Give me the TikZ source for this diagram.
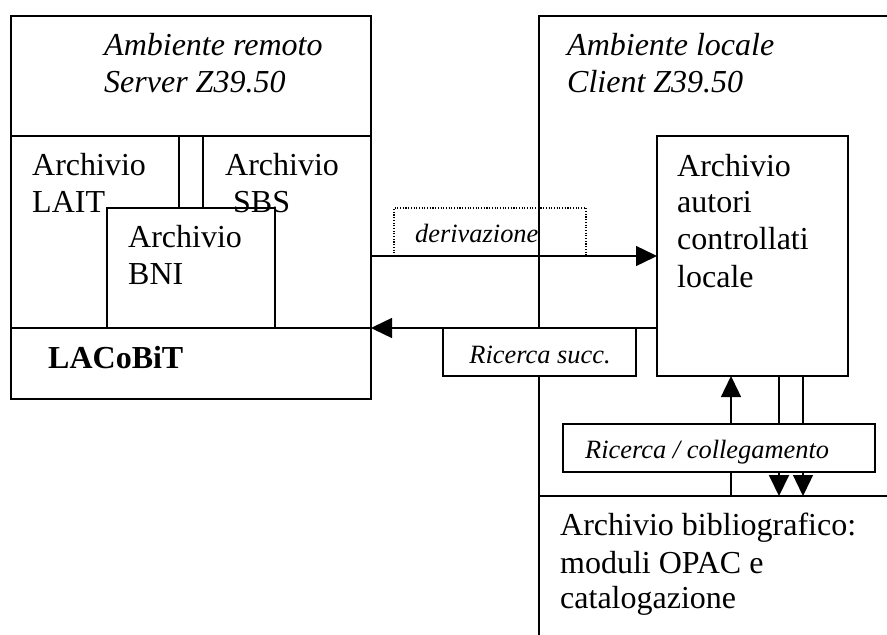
\documentclass[tikz,border=0pt]{standalone}
\usepackage{fontspec}
\setmainfont{Liberation Serif}
\usetikzlibrary{arrows.meta}
\begin{document}
\begin{tikzpicture}[x=1pt,y=-1pt,
  frame/.style={line width=1.4pt},
  box/.style={draw, line width=1.4pt, inner sep=0pt, outer sep=0pt, anchor=north west},
  wbox/.style={box, fill=white},
  big/.style={anchor=base west, inner sep=0pt, font=\fontsize{32}{37}\selectfont},
  bigit/.style={big, font=\fontsize{32}{37}\selectfont\itshape},
  small/.style={anchor=base west, inner sep=0pt, font=\fontsize{26.4}{30}\selectfont\itshape},
  arr/.style={line width=1.4pt, -{Triangle[length=21pt,width=20pt]}}]
\useasboundingbox (0,0) rectangle (887,635);
% remote environment
\node[box, minimum width=360pt, minimum height=383pt] (remote) at (11,16) {};
\draw[frame] (11,136) -- (371,136);
\draw[frame] (11,328) -- (371,328);
\node[box, minimum width=168pt, minimum height=120pt] (bni) at (107,208) {};
\coordinate (v1t) at (179,136); \coordinate (v1b) at (179,208);
\coordinate (v2t) at (203,136); \coordinate (v2b) at (203,208);
\draw[frame] (v1t) -- (v1b);
\draw[frame] (v2t) -- (v2b);
\node[bigit] (amb1) at (104,55) {Ambiente remoto};
\node[bigit] (amb2) at (104,92) {Server Z39.50};
\node[big] (lait1) at (32,175) {Archivio};
\node[big] (lait2) at (32,212) {LAIT};
\node[big] (sbs1) at (225,175) {Archivio};
\node[big] (sbs2) at (233,212) {SBS};
\node[big] (bni1) at (128,247) {Archivio};
\node[big] (bni2) at (128,284) {BNI};
\node[big, font=\fontsize{32}{37}\selectfont\bfseries] (lacobit) at (48,368) {LACoBiT};
% local environment
\draw[frame] (539,640) -- (539,16) -- (890,16);
\draw[frame] (539,496) -- (890,496);
\node[bigit] (loc1) at (567,55) {Ambiente locale};
\node[bigit] (loc2) at (567,92) {Client Z39.50};
\node[box, minimum width=191pt, minimum height=240pt] (autori) at (657,136) {};
\node[big] (au1) at (677,176) {Archivio};
\node[big] (au2) at (677,212) {autori};
\node[big] (au3) at (677,249) {controllati};
\node[big] (au4) at (677,287) {locale};
\node[big] (bib1) at (560,535) {Archivio bibliografico:};
\node[big] (bib2) at (560,573) {moduli OPAC e};
\node[big] (bib3) at (560,608) {catalogazione};
% derivazione
\coordinate (d1) at (394,256); \coordinate (d2) at (394,208);
\coordinate (d3) at (586,208); \coordinate (d4) at (586,256);
\draw[line width=1.1pt, dash pattern=on 1.1pt off 1.6pt] (d1) -- (d2) -- (d3) -- (d4);
\node[small] (der) at (415,242) {derivazione};
\draw[arr] (remote.east |- 0,256) -- (autori.west |- 0,256);
% ricerca succ
\draw[arr] (autori.west |- 0,328) -- (remote.east |- 0,328);
\node[wbox, minimum width=193pt, minimum height=48pt] (rsucc) at (443,328) {};
\node[small, anchor=base] (rsucct) at (540,363) {Ricerca succ.};
% lower connectors
\coordinate (up0) at (731,496);
\draw[arr] (up0) -- (autori.south -| up0);
\coordinate (dn1) at (779,496);
\coordinate (dn2) at (803,496);
\draw[arr, line width=2pt] (autori.south -| dn1) -- (dn1);
\draw[arr] (autori.south -| dn2) -- (dn2);
\node[wbox, minimum width=312pt, minimum height=48pt] (rcol) at (563,424) {};
\node[small] (rcolt) at (585,458) {Ricerca / collegamento};
\end{tikzpicture}
\end{document}
